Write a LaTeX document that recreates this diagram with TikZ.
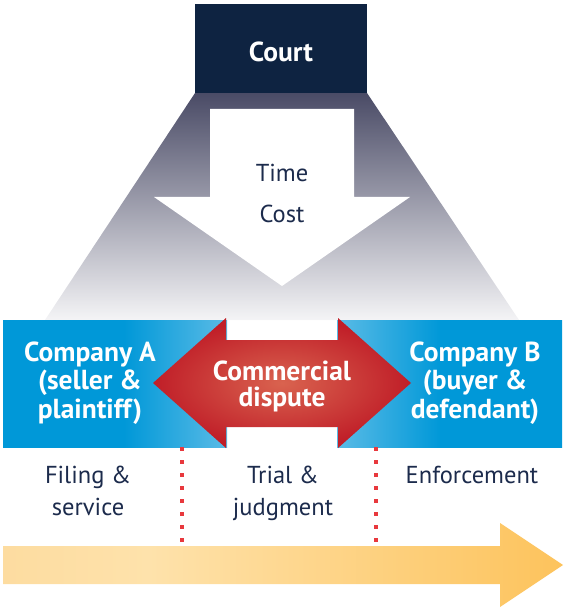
\documentclass[tikz,border=0pt]{standalone}
\usepackage{fontspec}
\setmainfont{PT Sans}
\usepackage{tikz}
\definecolor{courtnavy}{HTML}{0E2341}
\definecolor{textnavy}{HTML}{1C2B4C}
\definecolor{greytop}{HTML}{4A4B66}
\definecolor{greybot}{HTML}{F4F4F6}
\definecolor{banddark}{HTML}{0098D8}
\definecolor{bandlight}{HTML}{5ABBE6}
\definecolor{redlight}{HTML}{D9634F}
\definecolor{reddark}{HTML}{C01E28}
\definecolor{dotred}{HTML}{E8383D}
\definecolor{ambera}{HTML}{FDDCA0}
\definecolor{amberb}{HTML}{FEE2AB}
\definecolor{amberc}{HTML}{FDC35C}
\pgfdeclarehorizontalshading{bandleft}{100bp}{color(0bp)=(banddark); color(25bp)=(banddark); color(52bp)=(banddark); color(75bp)=(bandlight); color(100bp)=(bandlight)}
\pgfdeclarehorizontalshading{bandright}{100bp}{color(0bp)=(bandlight); color(25bp)=(bandlight); color(48bp)=(banddark); color(75bp)=(banddark); color(100bp)=(banddark)}
\pgfdeclarehorizontalshading{timeline}{100bp}{color(0bp)=(ambera); color(25bp)=(ambera); color(38bp)=(amberb); color(75bp)=(amberc); color(100bp)=(amberc)}

\begin{document}
\begin{tikzpicture}[x=1pt,y=-1pt,
    courtbox/.style={fill=courtnavy, text=white, inner sep=0pt, minimum width=172pt, minimum height=89pt, text height=26pt, text depth=0pt, font=\fontsize{27.5}{29}\selectfont\bfseries},
    bandtxt/.style={text=white, align=center, inner sep=0pt, font=\fontsize{27.5}{28.5}\selectfont\bfseries},
    stagetxt/.style={text=textnavy, align=center, inner sep=0pt, font=\fontsize{24.5}{32}\selectfont},
    divider/.style={dotred, line width=3.5pt, dash pattern=on 4pt off 9pt}]
    \useasboundingbox (0,0) rectangle (564,609);
    \shade[top color=greytop, bottom color=greybot] (195,93) -- (367,93) -- (519,320) -- (45,320) -- cycle;
    \node[courtbox] at (281,48.5) (court) {Court};
    \fill[white] (210,109) -- (354,109) -- (354,197) -- (410,197) -- (282,286) -- (154,197) -- (210,197) -- cycle;
    \node[stagetxt, anchor=base, font=\fontsize{24.5}{41}\selectfont] at (282,223) (cost) {Time\\Cost};
    \shade[shading=bandleft] (3,320) rectangle (227,447);
    \shade[shading=bandright] (337,320) rectangle (562,447);
    \shade[inner color=redlight, outer color=reddark] (153,383) -- (226,318) -- (226,340) -- (338,340) -- (338,318) -- (411,383) -- (338,448) -- (338,427) -- (226,427) -- (226,448) -- cycle;
    \node[bandtxt, anchor=base] at (90,418) (compA) {Company A\\(seller \&\\plaintiff)};
    \node[bandtxt, anchor=base] at (475,418) (compB) {Company B\\(buyer \&\\defendant)};
    \node[bandtxt, anchor=base, font=\fontsize{27.5}{26}\selectfont\bfseries] at (282,406) (dispute) {Commercial\\dispute};
    \node[stagetxt, anchor=base] at (88,515) (filing) {Filing \&\\service};
    \node[stagetxt, anchor=base] at (283,515) (trial) {Trial \&\\judgment};
    \node[stagetxt, anchor=base] at (472,483) (enforce) {Enforcement};
    \coordinate (d1a) at (182,447);
    \coordinate (d1b) at (182,542);
    \coordinate (d2a) at (376,447);
    \coordinate (d2b) at (376,542);
    \path
    (d1a) edge [divider] (d1b)
    (d2a) edge [divider] (d2b);
    \shade[shading=timeline] (3,546) -- (500,546) -- (500,523) -- (563,565) -- (500,607) -- (500,584) -- (3,584) -- cycle;
  \end{tikzpicture}
\end{document}
